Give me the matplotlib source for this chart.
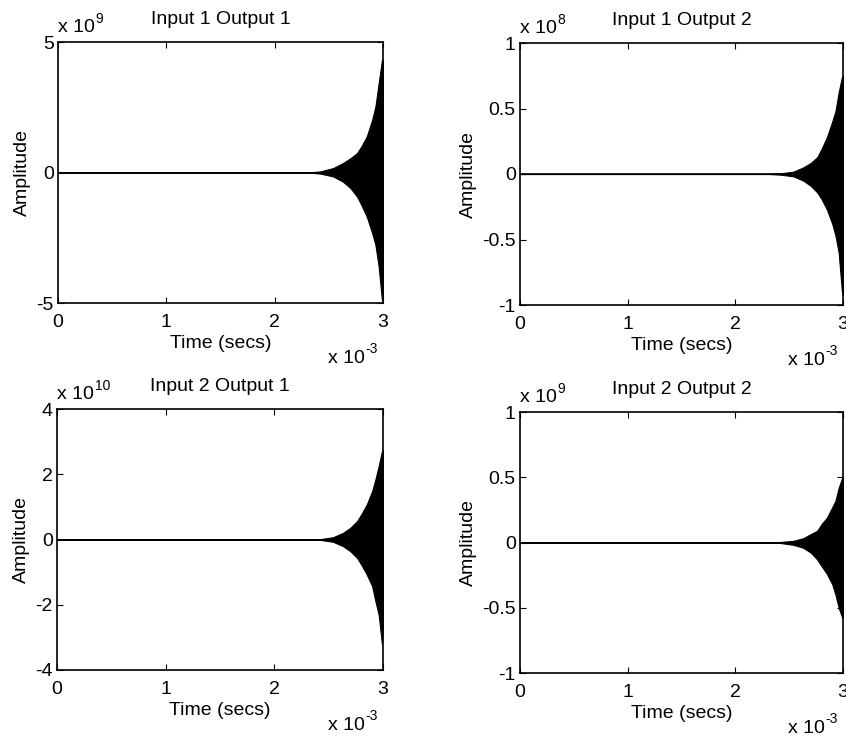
import numpy as np
import matplotlib
matplotlib.use("Agg")
import matplotlib.pyplot as plt

plt.rcParams['font.family'] = ['Liberation Sans', 'DejaVu Sans']

# time axis in units of 1e-3 s
t = [0.0, 2.30, 2.42, 2.54, 2.63, 2.70, 2.76, 2.80, 2.85, 2.90, 2.93, 2.96, 2.99, 3.0]

# envelope of the oscillating responses (in units of the axis exponent)
u11_hi = [0, 0.0, 0.04, 0.17, 0.36, 0.55, 0.74, 1.00, 1.38, 2.02, 2.53, 3.42, 4.30, 4.3]
u11_lo = [0, 0.0, -0.04, -0.15, -0.35, -0.60, -0.92, -1.24, -1.69, -2.32, -2.77, -3.60, -4.88, -4.9]

u12_hi = [0, 0.0, 0.005, 0.018, 0.05, 0.084, 0.128, 0.19, 0.28, 0.40, 0.48, 0.625, 0.74, 0.75]
u12_lo = [0, 0.0, -0.005, -0.018, -0.05, -0.09, -0.14, -0.19, -0.27, -0.38, -0.47, -0.60, -0.90, -0.92]

u21_hi = [0, 0.0, 0.01, 0.07, 0.20, 0.36, 0.56, 0.77, 1.07, 1.48, 1.84, 2.25, 2.70, 2.75]
u21_lo = [0, 0.0, -0.01, -0.07, -0.20, -0.36, -0.56, -0.77, -1.07, -1.43, -1.89, -2.30, -3.20, -2.6]

u22_hi = [0, 0.0, 0.004, 0.013, 0.033, 0.064, 0.09, 0.14, 0.19, 0.27, 0.32, 0.42, 0.49, 0.5]
u22_lo = [0, 0.0, -0.004, -0.018, -0.04, -0.077, -0.13, -0.18, -0.24, -0.32, -0.40, -0.50, -0.57, -0.58]

titles = ['Input 1 Output 1', 'Input 1 Output 2', 'Input 2 Output 1', 'Input 2 Output 2']
exponents = ['9', '8', '10', '9']
yticks = [[-5, 0, 5], [-1, -0.5, 0, 0.5, 1], [-4, -2, 0, 2, 4], [-1, -0.5, 0, 0.5, 1]]
yticklabels = [['-5', '0', '5'], ['-1', '-0.5', '0', '0.5', '1'],
               ['-4', '-2', '0', '2', '4'], ['-1', '-0.5', '0', '0.5', '1']]
xticks = [0, 1, 2, 3]
xticklabels = ['0', '1', '2', '3']
highs = [u11_hi, u12_hi, u21_hi, u22_hi]
lows = [u11_lo, u12_lo, u21_lo, u22_lo]

W, H = 846, 738
fig = plt.figure(figsize=(W / 100, H / 100), dpi=100)

# axes boxes in pixels: left, top, right, bottom
boxes = [(58, 42, 383, 303), (520, 43, 843, 305), (57, 409, 383, 670), (520, 412, 843, 673)]

fs = 14
sup = 10
for i in range(4):
    l, tp, r, b = boxes[i]
    ax = fig.add_axes([l / W, 1 - b / H, (r - l) / W, (b - tp) / H])
    ax.fill_between(t, lows[i], highs[i], color='black', linewidth=0.8, edgecolor='black')
    ax.plot(t, np.zeros(len(t)), color='black', linewidth=1.2)
    ax.set_xlim(0, 3)
    ax.set_ylim(yticks[i][0], yticks[i][-1])
    ax.set_xticks(xticks)
    ax.set_xticklabels(xticklabels)
    ax.set_yticks(yticks[i])
    ax.set_yticklabels(yticklabels[i])
    ax.tick_params(direction='in', top=True, right=True, length=4, width=0.8,
                   labelsize=fs)
    ax.tick_params(axis='x', pad=8)
    ax.tick_params(axis='y', pad=3)
    for s in ax.spines.values():
        s.set_linewidth(1.2)
    ax.set_title(titles[i], fontsize=fs, pad=13)
    ax.set_xlabel('Time (secs)', fontsize=fs, labelpad=3)
    ax.set_ylabel('Amplitude', fontsize=fs, labelpad=4)

    # exponent of the y axis, top left
    ax.annotate('x 10', xy=(0, 1), xycoords='axes fraction',
                xytext=(0, 7), textcoords='offset points', fontsize=fs,
                ha='left', va='baseline')
    ax.annotate(exponents[i], xy=(0, 1), xycoords='axes fraction',
                xytext=(27, 14), textcoords='offset points', fontsize=sup,
                ha='left', va='baseline')
    # exponent of the x axis, bottom right
    ax.annotate('x 10', xy=(1, 0), xycoords='axes fraction',
                xytext=(-13, -43), textcoords='offset points', fontsize=fs,
                ha='right', va='baseline')
    ax.annotate('-3', xy=(1, 0), xycoords='axes fraction',
                xytext=(-13, -36), textcoords='offset points', fontsize=sup,
                ha='left', va='baseline')

fig.savefig('out.png', dpi=100, facecolor='white')
